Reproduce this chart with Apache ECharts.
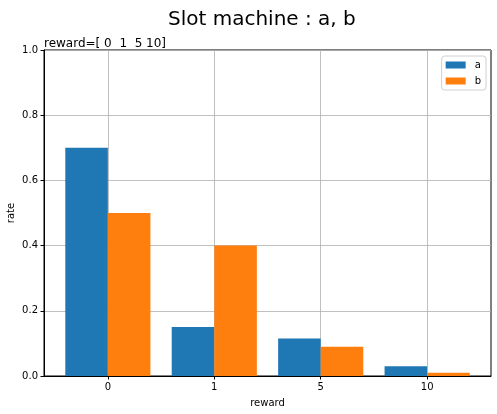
<!DOCTYPE html>
<html>
<head>
<meta charset="utf-8">
<script src="https://cdn.jsdelivr.net/npm/echarts@6/dist/echarts.min.js"></script>
<style>
html,body{margin:0;padding:0;background:#fff;}
#chart{width:497px;height:414px;}
</style>
</head>
<body>
<div id="chart"></div>
<script>
const categories = ['0', '1', '5', '10'];
const seriesNames = ['a', 'b'];
const valuesA = [0.70, 0.15, 0.115, 0.03];
const valuesB = [0.50, 0.40, 0.09, 0.01];
const yTicks = [0, 0.2, 0.4, 0.6, 0.8, 1.0];
const titleText = 'Slot machine : a, b';
const subtitleText = 'reward=[ 0  1  5 10]';

const FONT = 'DejaVu Sans';
const gridLeft = 44, gridRight = 6, gridTop = 50, gridBottom = 38;
const plotW = 497 - gridLeft - gridRight;
const pxPerUnit = plotW / 4.2;
const barW = 0.4 * pxPerUnit;

const chart = echarts.init(document.getElementById('chart'), null, {renderer: 'canvas'});
const idx = categories.map((c, i) => i);

chart.setOption({
  animation: false,
  backgroundColor: '#fff',
  textStyle: {fontFamily: FONT},
  title: [
    {text: titleText, left: 163, top: 5,
     textStyle: {fontFamily: FONT, fontSize: 20, fontWeight: 'normal', color: '#000'}},
    {text: subtitleText, left: 39, top: 33,
     textStyle: {fontFamily: FONT, fontSize: 12, fontWeight: 'normal', color: '#000'}}
  ],
  legend: {
    data: seriesNames,
    orient: 'vertical',
    right: 11, top: 56,
    itemWidth: 20, itemHeight: 7, itemGap: 4,
    padding: [3, 5, 3, 4],
    borderColor: '#d0d0d0', borderWidth: 1, borderRadius: 3,
    backgroundColor: '#fff',
    icon: 'rect',
    textStyle: {fontFamily: FONT, fontSize: 10, lineHeight: 12, color: '#000', padding: [0, 0, 0, 4]}
  },
  grid: {left: gridLeft, right: gridRight, top: gridTop, bottom: gridBottom,
         show: true, borderColor: '#000', borderWidth: 1, backgroundColor: '#fff',
         containLabel: false, outerBoundsMode: 'none'},
  xAxis: {
    type: 'value', min: -0.6, max: 3.6,
    name: 'reward', nameLocation: 'middle', nameGap: 22, nameMoveOverlap: false,
    nameTextStyle: {fontFamily: FONT, fontSize: 10, color: '#000'},
    axisLine: {show: true, onZero: false, lineStyle: {color: '#000', width: 1}},
    axisTick: {show: true, length: 3.5, lineStyle: {color: '#000'}, customValues: idx},
    axisLabel: {fontFamily: FONT, fontSize: 10, color: '#000', margin: 6, customValues: idx,
                formatter: v => categories[Math.round(v)] !== undefined && Math.abs(v - Math.round(v)) < 1e-6 ? categories[Math.round(v)] : ''},
    splitLine: {show: true, lineStyle: {color: '#b0b0b0', width: 0.8}}
  },
  yAxis: {
    type: 'value', min: 0, max: 1, interval: 0.2,
    name: 'rate', nameLocation: 'middle', nameGap: 28, nameRotate: 90, nameMoveOverlap: false,
    nameTextStyle: {fontFamily: FONT, fontSize: 10, color: '#000'},
    axisLine: {show: true, onZero: false, lineStyle: {color: '#000', width: 1}},
    axisTick: {show: true, length: 3.5, lineStyle: {color: '#000'}},
    axisLabel: {fontFamily: FONT, fontSize: 10, color: '#000', margin: 6,
                formatter: v => v.toFixed(1)},
    splitLine: {show: true, lineStyle: {color: '#b0b0b0', width: 0.8}}
  },
  series: [
    {name: seriesNames[0], type: 'bar', barWidth: barW, barGap: '0%',
     itemStyle: {color: '#1f77b4'},
     data: valuesA.map((v, i) => [i, v])},
    {name: seriesNames[1], type: 'bar', barWidth: barW, barGap: '0%',
     itemStyle: {color: '#ff7f0e'},
     data: valuesB.map((v, i) => [i, v])}
  ]
});
</script>
</body>
</html>
